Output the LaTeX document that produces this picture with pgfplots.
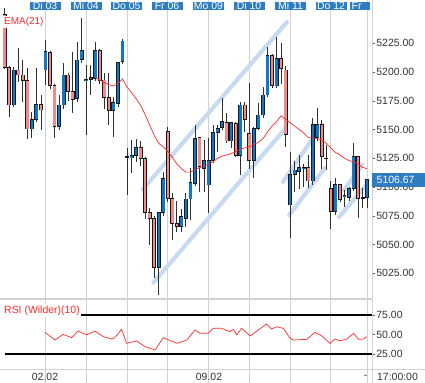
\documentclass[border=0pt]{standalone}
\usepackage{pgfplots}
\pgfplotsset{compat=1.18}
\usepackage{pgfplotstable}
\usepackage{fontspec}
\setmainfont{Liberation Sans}
\definecolor{bblue}{HTML}{1078C8}
\definecolor{bred}{HTML}{F28A8A}
\definecolor{labblue}{HTML}{2E7DC0}
\definecolor{chan}{HTML}{C8DAF0}
\definecolor{emared}{HTML}{FF2A2A}
\definecolor{gridc}{HTML}{D2D2D2}
\definecolor{txt}{HTML}{333333}
\definecolor{wick}{HTML}{303030}

\pgfplotstableread{
i o h l c
2 5171.3 5204.7 5170 5201.8
6 5150.5 5165.6 5142.4 5158.9
7 5158.9 5203.2 5157 5171.9
9 5201.8 5227.9 5188.7 5217.7
12 5153 5180 5150 5171.3
13 5171.3 5207.6 5168 5197.4
16 5177.1 5226.4 5173.7 5210.5
17 5211 5246.7 5207.6 5218.6
18 5192.2 5206 5145.2 5193.7
19 5193.7 5206 5180 5195.4
20 5194.5 5225.8 5192 5218.6
24 5166.4 5178 5143.2 5173.7
25 5172.8 5209 5170 5208.4
26 5209 5228.7 5207 5227
27 5126.3 5134.2 5093.1 5126.6
28 5125.6 5140.9 5112 5127.3
29 5127.3 5141.8 5122 5134.5
34 5029.9 5078 5006.1 5078
35 5078 5113 5075 5107.6
39 5065.5 5081 5061 5074.3
40 5072.8 5095 5065 5089.6
41 5089.6 5116.3 5071.3 5104.1
42 5103.2 5153.9 5101 5142.4
44 5116.3 5140.9 5096 5123.2
45 5101.8 5142.4 5077.1 5123
46 5123 5153.9 5121 5147.6
47 5147.6 5154 5130.8 5151
48 5151.6 5177.7 5150 5156.8
50 5140 5157 5133.7 5156
52 5127.3 5173.7 5110.5 5171.3
55 5123 5152 5108.2 5151
56 5151 5172.8 5150 5162.6
57 5162.6 5187 5160 5180
58 5180 5222 5178 5214.2
60 5187.9 5230.8 5186 5211.9
63 5084.4 5130.8 5056 5111
64 5111 5122.6 5096 5114.8
65 5113.4 5127.9 5098 5116.8
66 5115.7 5120 5100 5116.8
68 5105.3 5159.7 5101.8 5154.5
69 5142.9 5168.4 5140 5154.5
71 5125 5136.6 5114.8 5125.3
73 5078.6 5108.2 5076 5102.4
75 5091.6 5097.4 5082.9 5092.8
76 5090.8 5100 5088 5098.9
77 5098.9 5138 5097 5126.4
79 5090.5 5098.9 5081.5 5090.8
80 5090.8 5106.67 5081.5 5106.67
}\updata

\pgfplotstableread{
i o h l c
0 5250 5256 5203 5204
1 5204 5205 5161 5171.3
3 5201.8 5220.6 5191.6 5197.4
4 5197.4 5210.5 5174.2 5192.5
5 5192.5 5203.8 5141.8 5150.5
8 5171.9 5180 5149.6 5167
10 5216.9 5218 5185 5188.1
11 5188.1 5190 5142.9 5153
14 5197.4 5199 5175 5182.9
15 5182.9 5217.7 5164.1 5176.3
21 5218.6 5220 5190 5193
22 5193 5198.9 5168 5177.7
23 5177.7 5198.9 5154 5166.4
30 5134.2 5140 5118 5125
31 5125 5126 5072 5078
32 5078 5081.5 5049.6 5072.8
33 5072.8 5075 5020.6 5029.9
36 5148.2 5152.5 5087 5090
37 5090 5094.5 5053.9 5068.4
38 5068.4 5088 5061 5065.5
43 5142.9 5143.5 5096 5117.7
49 5156.3 5164.1 5138 5140
51 5155.4 5157 5126 5127.3
53 5171.3 5173.7 5148 5158.9
54 5146.7 5190.2 5115.7 5123
59 5214.2 5216 5186 5188.1
61 5211.9 5225 5190 5203.2
62 5201.8 5205 5135.1 5145.8
67 5116.8 5128 5098.9 5105.3
70 5154.5 5158 5115.7 5126.4
72 5098.9 5105 5063.5 5078.6
74 5102.4 5103 5087 5089.3
78 5126.4 5127 5072.8 5090.2
}\downdata

\pgfplotstableread{
i v
20 5195
21 5193
22 5191
23 5189
24 5188
25 5190
26 5194
27 5187
28 5182
29 5177
30 5171
31 5163
32 5154
33 5145
34 5138
35 5135
36 5131
37 5126
38 5120
39 5116
40 5113
41 5113
42 5115
43 5117
44 5118
45 5120
46 5122
47 5125
48 5127
49 5128
50 5129
51 5131
52 5133
53 5134
54 5135
55 5137
56 5139
57 5142
58 5148
59 5153
60 5157
61 5162
62 5159
63 5156
64 5153
65 5150
66 5147
67 5143
68 5143
69 5142
70 5141
71 5138
72 5134
73 5130
74 5128
75 5125
76 5123
77 5122
78 5120
79 5117
80 5116
}\ema

\pgfplotstableread{
i v
8.9 52.8
11.1 42.9
12.9 50.2
14.8 45.9
16.2 54.5
18.1 49.4
19.9 54.5
21.8 47.2
23.6 44.2
24.3 45.9
25.8 56.6
26.9 38.7
29.1 41.7
31 34.4
33.2 30.1
35 45.9
38 38.7
40.2 42.9
42 55.8
43.1 51.5
44.9 51.5
46 57.9
47.9 57.9
49.7 53.6
50.5 56.6
51.2 49.4
52.3 57.9
54.2 48.1
56 55.8
57.8 63.5
58.9 57
60 60
61.5 57.9
63 45.1
63.7 42.9
66.7 43.8
68.5 52.8
70 48.1
71.8 38.7
72.9 44.2
74 41.7
75.5 44.2
77 51.5
78.1 43.8
79.2 44.2
79.9 47.2
}\rsi

\tikzset{
  daylab/.style={fill=labblue, text=white, font=\fontsize{10.5}{12}\selectfont,
    inner xsep=0pt, inner ysep=0.5bp, text height=7.4bp, text depth=0pt,
    minimum width=31bp, anchor=north},
}
\pgfplotsset{
  bars/.style={draw=none, mark=none, forget plot,
    error bars/.cd, y dir=both, y explicit, error mark=none,
    error bar style={#1}},
}

\begin{document}
\begin{tikzpicture}[x=1bp,y=1bp]
\useasboundingbox[fill=white] (0bp,0bp) rectangle (425bp,-383bp);

% ---------------- main price panel ----------------
\begin{axis}[
  at={(0bp,0bp)}, anchor=north west, scale only axis,
  width=372bp, height=298bp,
  xmin=-1.04, xmax=81.07, ymin=5003.5, ymax=5262.7,
  axis x line*=bottom, axis y line*=right,
  axis line style={draw=gridc, line width=1bp},
  xtick={9,18,27,36,45,54,63,72,80}, xticklabels={}, xmajorgrids,
  major x tick style={draw=none},
  grid style={draw=gridc, line width=1bp},
  ytick={5025,5050,...,5225},
  tick align=outside, major tick length=3bp,
  major y tick style={draw=txt!80, line width=0.6bp},
  yticklabel style={font=\fontsize{10.5}{12}\selectfont, text=txt, inner xsep=1.2bp,
    /pgf/number format/fixed, /pgf/number format/fixed zerofill,
    /pgf/number format/precision=2, /pgf/number format/1000 sep={},
    /pgf/number format/assume math mode=true},
]
% channel lines
\addplot[chan, line width=4.2bp, line cap=round, forget plot] coordinates {(30.46,5098) (62.3,5243.5)};
\addplot[chan, line width=4.2bp, line cap=round, forget plot] coordinates {(32.8,5016.8) (61.65,5149.6)};
\addplot[chan, line width=4.2bp, line cap=round, forget plot] coordinates {(61.4,5104.4) (70.0,5153.9)};
\addplot[chan, line width=4.2bp, line cap=round, forget plot] coordinates {(62.8,5075.7) (70.7,5116.6)};
\addplot[chan, line width=4.2bp, line cap=round, forget plot] coordinates {(74.9,5097.4) (78.9,5119.2)};
\addplot[chan, line width=4.2bp, line cap=round, forget plot] coordinates {(73.8,5074) (79.8,5101.8)};

% wicks
\addplot[bars={line width=0.9bp, draw=wick}]
  table[x=i, y expr={0.5*(\thisrow{h}+\thisrow{l})}, y error expr={0.5*(\thisrow{h}-\thisrow{l})}] {\updata};
\addplot[bars={line width=0.9bp, draw=wick}]
  table[x=i, y expr={0.5*(\thisrow{h}+\thisrow{l})}, y error expr={0.5*(\thisrow{h}-\thisrow{l})}] {\downdata};
% bodies outline
\addplot[bars={line width=3.9bp, draw=black!90}]
  table[x=i, y expr={0.5*(\thisrow{o}+\thisrow{c})}, y error expr={0.5*abs(\thisrow{c}-\thisrow{o})+0.35}] {\updata};
\addplot[bars={line width=3.9bp, draw=black!90}]
  table[x=i, y expr={0.5*(\thisrow{o}+\thisrow{c})}, y error expr={0.5*abs(\thisrow{c}-\thisrow{o})+0.35}] {\downdata};
% bodies fill
\addplot[bars={line width=2.5bp, draw=bblue}]
  table[x=i, y expr={0.5*(\thisrow{o}+\thisrow{c})}, y error expr={max(0.5*abs(\thisrow{c}-\thisrow{o})-0.3,0)}] {\updata};
\addplot[bars={line width=2.5bp, draw=bred}]
  table[x=i, y expr={0.5*(\thisrow{o}+\thisrow{c})}, y error expr={max(0.5*abs(\thisrow{c}-\thisrow{o})-0.3,0)}] {\downdata};
% EMA
\addplot[emared, line width=0.7bp, mark=none] table[x=i, y=v] {\ema};
\end{axis}

% ---------------- RSI panel ----------------
\begin{axis}[
  at={(0bp,-299bp)}, anchor=north west, scale only axis,
  width=372bp, height=84bp,
  xmin=-1.04, xmax=81.07, ymin=-12.2, ymax=95.5,
  axis x line*=top, axis y line*=right,
  axis line style={draw=gridc, line width=1bp},
  xtick={9,18,27,36,45,54,63,72,80}, xticklabels={}, xmajorgrids,
  major x tick style={draw=none},
  grid style={draw=gridc, line width=1bp},
  ytick={25,50,75},
  tick align=outside, major tick length=3bp,
  major y tick style={draw=txt!80, line width=0.6bp},
  yticklabel style={font=\fontsize{10.5}{12}\selectfont, text=txt, inner xsep=1.2bp,
    /pgf/number format/fixed, /pgf/number format/fixed zerofill,
    /pgf/number format/precision=2,
    /pgf/number format/assume math mode=true},
]
\addplot[black, line width=1.1bp, forget plot] coordinates {(0.07,75) (81.07,75)};
\addplot[black, line width=1.1bp, forget plot] coordinates {(0.07,25) (81.07,25)};
\addplot[emared, line width=0.7bp, mark=none] table[x=i, y=v] {\rsi};
\end{axis}
\draw[gridc, line width=1bp] (0bp,-369bp) -- (425bp,-369bp);

% ---------------- labels ----------------
\node[daylab] at (45bp,-1.7bp) {Di 03};
\node[daylab] at (86bp,-1.7bp) {Mi 04};
\node[daylab] at (126.5bp,-1.7bp) {Do 05};
\node[daylab] at (167bp,-1.7bp) {Fr 06};
\node[daylab] at (208.5bp,-1.7bp) {Mo 09};
\node[daylab] at (249bp,-1.7bp) {Di 10};
\node[daylab] at (290.5bp,-1.7bp) {Mi 11};
\node[daylab] at (331bp,-1.7bp) {Do 12};
\node[daylab, anchor=north west, minimum width=20bp, align=left, text width=17bp, inner xsep=1.5bp] at (350bp,-1.7bp) {Fr};

\node[fill=white, text=emared, font=\fontsize{10}{12}\selectfont, inner sep=1.5bp, anchor=north west] at (2.5bp,-15.5bp) {EMA(21)};
\node[fill=white, text=emared, font=\fontsize{10.5}{12}\selectfont, inner sep=1.5bp, anchor=north west] at (2.5bp,-304bp) {RSI (Wilder)(10)};

\node[fill=labblue, text=white, font=\fontsize{10.5}{12}\selectfont, anchor=west,
  text width=44bp, align=left, inner xsep=4.5bp, inner ysep=3bp, text height=7.4bp, text depth=0pt] at (372bp,-180bp) {5106.67};

\node[text=txt, font=\fontsize{10.5}{12}\selectfont, inner sep=0pt] at (45bp,-376.5bp) {02.02};
\node[text=txt, font=\fontsize{10.5}{12}\selectfont, inner sep=0pt] at (209bp,-376.5bp) {09.02};
\node[text=txt, font=\fontsize{10.5}{12}\selectfont, inner sep=0pt] at (365.5bp,-376.5bp) {-};
\node[text=txt, font=\fontsize{10.5}{12}\selectfont, inner sep=0pt] at (397.5bp,-376.5bp) {17:00:00};
\end{tikzpicture}
\end{document}
